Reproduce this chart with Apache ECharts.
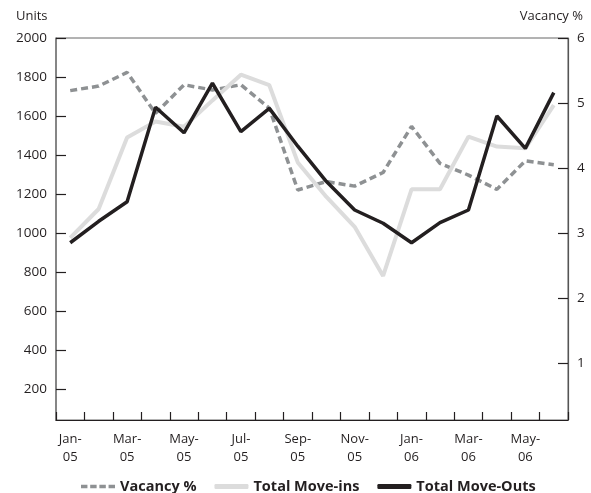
<!DOCTYPE html>
<html>
<head>
<meta charset="utf-8">
<script src="https://cdn.jsdelivr.net/npm/echarts@6/dist/echarts.min.js"></script>
<style>
html,body{margin:0;padding:0;background:#fff;}
#chart{width:591px;height:493px;}
</style>
</head>
<body>
<div id="chart"></div>
<script>
const categories = ["Jan-05","Feb-05","Mar-05","Apr-05","May-05","Jun-05","Jul-05","Aug-05","Sep-05","Oct-05","Nov-05","Dec-05","Jan-06","Feb-06","Mar-06","Apr-06","May-06","Jun-06"];
const vacancy = [5.19, 5.26, 5.47, 4.84, 5.28, 5.20, 5.28, 4.92, 3.66, 3.79, 3.72, 3.93, 4.64, 4.07, 3.89, 3.67, 4.11, 4.05];
const moveIns = [975, 1123, 1490, 1572, 1545, 1680, 1812, 1758, 1362, 1186, 1032, 780, 1224, 1224, 1494, 1443, 1434, 1656];
const moveOuts = [950, 1060, 1160, 1645, 1514, 1768, 1520, 1639, 1445, 1265, 1118, 1050, 950, 1053, 1118, 1600, 1434, 1720];
const leftTicks = [200, 400, 600, 800, 1000, 1200, 1400, 1600, 1800, 2000];
const rightTicks = [1, 2, 3, 4, 5, 6];

const FONT = "'Open Sans', sans-serif";
const chart = echarts.init(document.getElementById('chart'), null, {renderer: 'canvas'});
chart.setOption({
  animation: false,
  backgroundColor: '#fff',
  textStyle: {fontFamily: FONT},
  grid: {left: 56, right: 23, top: 38, bottom: 73, show: true, borderColor: '#666', borderWidth: 1, backgroundColor: 'transparent'},
  graphic: [
    {type: 'text', left: 16, top: 10, style: {text: 'Units', font: "13px 'Open Sans', sans-serif", fill: '#231f20'}},
    {type: 'text', right: 8, top: 10, style: {text: 'Vacancy %', font: "13px 'Open Sans', sans-serif", fill: '#231f20'}}
  ],
  legend: {
    left: 76, top: 474,
    itemWidth: 34, itemHeight: 5, itemGap: 18,
    textStyle: {fontFamily: FONT, fontSize: 14.5, fontWeight: 'bold', color: '#231f20'},
    data: [
      {name: 'Vacancy %', icon: 'path://M0,0h7v4h-7zM10,0h7v4h-7zM20,0h7v4h-7zM30,0h7v4h-7z', itemStyle: {color: '#8e9193'}},
      {name: 'Total Move-ins', icon: 'roundRect', itemStyle: {color: '#dcdcdc'}},
      {name: 'Total Move-Outs', icon: 'roundRect', itemStyle: {color: '#231f20'}}
    ]
  },
  xAxis: {
    type: 'category',
    data: categories,
    boundaryGap: true,
    axisLine: {lineStyle: {color: '#231f20', width: 1.2}},
    axisTick: {show: true, inside: true, length: 8, interval: 0, lineStyle: {color: '#231f20', width: 1.2}},
    axisLabel: {
      interval: 1, margin: 10, color: '#231f20', fontSize: 13, fontFamily: FONT, lineHeight: 18,
      formatter: v => v.replace('-', '-\n')
    },
    splitLine: {show: false}
  },
  yAxis: [
    {
      type: 'value', min: 41, max: 2000,
      axisLine: {show: true, lineStyle: {color: '#777', width: 1.5}},
      axisTick: {show: true, inside: true, length: 10, lineStyle: {color: '#231f20', width: 1.2}, customValues: leftTicks},
      axisLabel: {color: '#231f20', fontSize: 13.5, fontFamily: FONT, margin: 9, customValues: leftTicks, formatter: v => String(v)},
      splitLine: {show: false}
    },
    {
      type: 'value', min: 0.12, max: 6, position: 'right',
      axisLine: {show: true, lineStyle: {color: '#555', width: 1.2}},
      axisTick: {show: true, inside: true, length: 10, lineStyle: {color: '#231f20', width: 1.2}, customValues: rightTicks},
      axisLabel: {color: '#231f20', fontSize: 13.5, fontFamily: FONT, margin: 9, customValues: rightTicks, formatter: v => String(v)},
      splitLine: {show: false}
    }
  ],
  series: [
    {
      name: 'Vacancy %', type: 'line', yAxisIndex: 1, data: vacancy,
      symbol: 'none', smooth: false,
      lineStyle: {color: '#8e9193', width: 3.5, type: [7, 4]},
      itemStyle: {color: '#8e9193'}
    },
    {
      name: 'Total Move-ins', type: 'line', yAxisIndex: 0, data: moveIns,
      symbol: 'none',
      lineStyle: {color: '#dcdcdc', width: 4},
      itemStyle: {color: '#dcdcdc'}
    },
    {
      name: 'Total Move-Outs', type: 'line', yAxisIndex: 0, data: moveOuts,
      symbol: 'none',
      lineStyle: {color: '#231f20', width: 3.5},
      itemStyle: {color: '#231f20'}
    }
  ]
});
</script>
</body>
</html>
